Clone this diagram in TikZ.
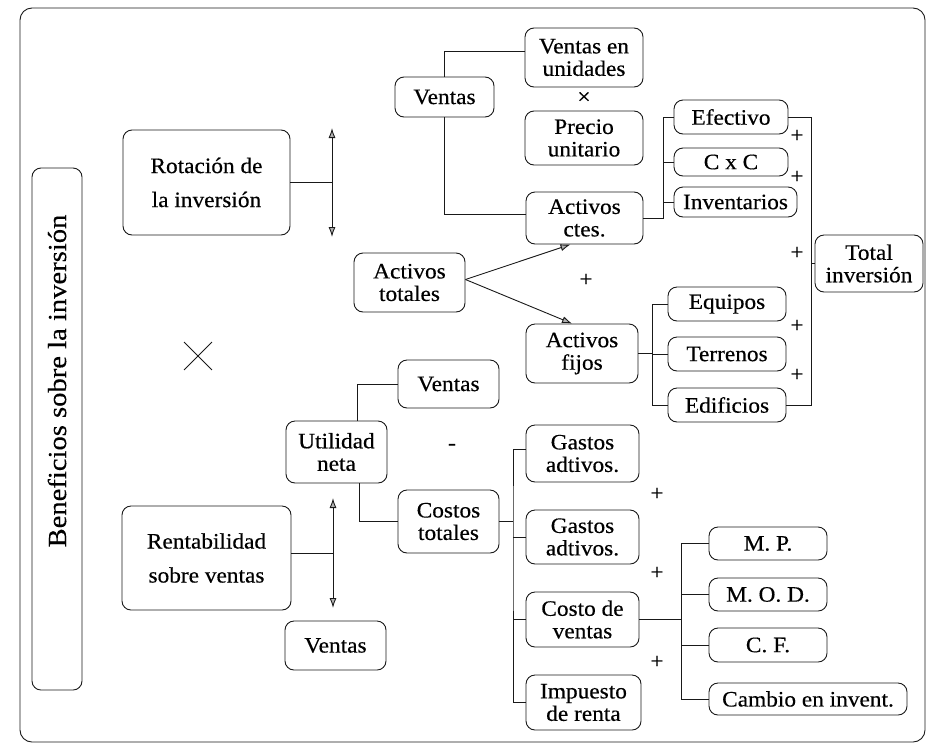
\documentclass[tikz,border=0pt]{standalone}
\usepackage{fontspec}
\setmainfont{Liberation Serif}[FakeStretch=1.06,FakeBold=0.4]
\newfontfamily\benfont{Liberation Serif}[FakeStretch=1.1,FakeBold=0.3]
\usetikzlibrary{arrows.meta,shapes.misc}
\begin{document}
\begin{tikzpicture}[x=1pt,y=-1pt,
  bx/.style={draw=black!90, rounded corners=9pt, line width=0.9pt, inner sep=0pt, align=center, font=\fontsize{22}{22.5}\selectfont},
  bxw/.style={bx, font=\fontsize{22}{34}\selectfont},
  ln/.style={line width=0.9pt, draw=black!90},
  ar/.style={ln, {Latex[length=10pt,width=7pt,fill=gray!60]}-{Latex[length=10pt,width=7pt,fill=gray!60]}},
  ra/.style={ln, -{Latex[length=10pt,width=7pt,fill=gray!60]}},
  sg/.style={font=\fontsize{22}{22}\selectfont, inner sep=0pt}]
\useasboundingbox (0,0) rectangle (928,747);
\draw[ln, rounded corners=12pt] (20,8) rectangle (925,742);

% left vertical title
\node[bx, rotate=90, minimum width=522pt, minimum height=50pt, font=\benfont\fontsize{26}{28}\selectfont] (ben) at (57,429) {\hspace*{96pt}Beneficios sobre la inversión};

% upper branch
\node[bxw, minimum width=167pt, minimum height=105pt] (rot) at (206.5,182.5) {Rotación de\\la inversión};
\node[bx, minimum width=99pt, minimum height=40pt] (ventas1) at (444.5,97) {Ventas};
\node[bx, minimum width=118pt, minimum height=59pt] (vu) at (584,57.5) {Ventas en\\unidades};
\node[bx, minimum width=118pt, minimum height=54pt] (pu) at (584,138) {Precio\\unitario};
\node[bx, minimum width=117pt, minimum height=52pt] (act) at (584.5,218) {Activos\\ctes.};
\node[bx, minimum width=111pt, minimum height=59pt] (atot) at (409.5,282.5) {Activos\\totales};
\node[bx, minimum width=112pt, minimum height=59pt] (afij) at (582,353.5) {Activos\\fijos};
\node[bx, minimum width=114pt, minimum height=34pt] (efec) at (731,117) {Efectivo};
\node[bx, minimum width=114pt, minimum height=28pt] (cxc) at (731,162) {C x C};
\node[bx, minimum width=123pt, minimum height=30pt] (inv) at (735.5,202) {Inventarios};
\node[bx, minimum width=118pt, minimum height=34pt] (equ) at (727,304) {Equipos};
\node[bx, minimum width=118pt, minimum height=34pt] (ter) at (727,354) {Terrenos};
\node[bx, minimum width=118pt, minimum height=34pt] (edi) at (727,405) {Edificios};
\node[bx, minimum width=108pt, minimum height=57pt] (tot) at (869,263.5) {Total\\inversión};

% lower branch
\node[bx, minimum width=101pt, minimum height=48pt] (vent2) at (448.5,384) {Ventas};
\node[bx, minimum width=101pt, minimum height=62pt] (util) at (336.5,452) {Utilidad\\neta};
\node[bx, minimum width=101pt, minimum height=63pt] (cost) at (448.5,521.5) {Costos\\totales};
\node[bxw, minimum width=169pt, minimum height=104pt] (rent) at (206.5,558) {Rentabilidad\\sobre ventas};
\node[bx, minimum width=101pt, minimum height=49pt] (vent3) at (335.5,645.5) {Ventas};
\node[bx, minimum width=113pt, minimum height=57pt] (g1) at (582.5,453.5) {Gastos\\adtivos.};
\node[bx, minimum width=113pt, minimum height=54pt] (g2) at (582.5,537) {Gastos\\adtivos.};
\node[bx, minimum width=113pt, minimum height=55pt] (cv) at (582.5,619.5) {Costo de\\ventas};
\node[bx, minimum width=115pt, minimum height=55pt] (imp) at (583.5,702.5) {Impuesto\\de renta};
\node[bx, minimum width=118pt, minimum height=33pt] (mp) at (768,543.5) {M. P.};
\node[bx, minimum width=118pt, minimum height=33pt] (mod) at (768,594.5) {M. O. D.};
\node[bx, minimum width=118pt, minimum height=34pt] (cf) at (768,645) {C. F.};
\node[bx, minimum width=198pt, minimum height=32pt] (cam) at (808,699) {Cambio en invent.};

% signs
\node[draw=black!90, cross out, line width=0.9pt, minimum size=27pt, inner sep=0pt] (bigx) at (198,356) {};
\node[sg] (xs) at (584,98) {×};
\node[sg] (p0) at (586,280) {+};
\node[sg] (p1) at (797,136) {+};
\node[sg] (p2) at (797,177) {+};
\node[sg] (p3) at (797,253) {+};
\node[sg] (p4) at (797,326) {+};
\node[sg] (p5) at (797,375) {+};
\node[sg] (mn) at (452,447) {-};
\node[sg] (q1) at (657,494) {+};
\node[sg] (q2) at (657,573) {+};
\node[sg] (q3) at (657,662) {+};

% connectors upper
\coordinate (ra1) at (332,128);
\coordinate (ra2) at (332,237);
\draw[ar] (ra1) -- (ra2);
\draw[ln] (rot.east) -- (rot.east -| ra1);
\draw[ln] (ventas1.north) |- ([yshift=6pt]vu.west);
\draw[ln] (ventas1.south) |- ([yshift=4pt]act.west);
\draw[ra] ([yshift=3pt]atot.east) -- ([xshift=-14pt]act.south);
\draw[ra] ([yshift=3pt]atot.east) -- ([xshift=-10pt]afij.north);
\coordinate (b1) at (663,218);
\draw[ln] (efec.west) -| (b1) -- (act.east);
\draw[ln] (cxc.west) -- (cxc.west -| b1);
\draw[ln] (inv.west) -- (inv.west -| b1);
\coordinate (b2) at (652,354);
\draw[ln] (equ.west) -| (b2) |- (edi.west);
\draw[ln] (ter.west) -- (ter.west -| b2);
\draw[ln] (afij.east) -- (afij.east -| b2);
\coordinate (b3) at (811,263.5);
\draw[ln] (efec.east) -| (b3) |- (edi.east);
\draw[ln] (b3) -- (tot.west);

% connectors lower
\draw[ln] ([xshift=21pt]util.north) |- (vent2.west);
\draw[ln] ([xshift=23pt]util.south) |- (cost.west);
\coordinate (ra3) at (333,498);
\coordinate (ra4) at (333,608);
\draw[ar] (ra3) -- (ra4);
\draw[ln] ([yshift=5pt]rent.east) -- ([yshift=5pt]rent.east -| ra3);
\coordinate (b4) at (513,521.5);
\draw[ln] ([yshift=4pt]g1.west) -| (b4) |- (imp.west);
\draw[ln] (g2.west) -- (g2.west -| b4);
\draw[ln] (cv.west) -- (cv.west -| b4);
\draw[ln] (cost.east) -- (b4);
\coordinate (b5) at (681,619.5);
\draw[ln] (mp.west) -| (b5) |- (cam.west);
\draw[ln] (mod.west) -- (mod.west -| b5);
\draw[ln] (cf.west) -- (cf.west -| b5);
\draw[ln] (cv.east) -- (b5);
\end{tikzpicture}
\end{document}
